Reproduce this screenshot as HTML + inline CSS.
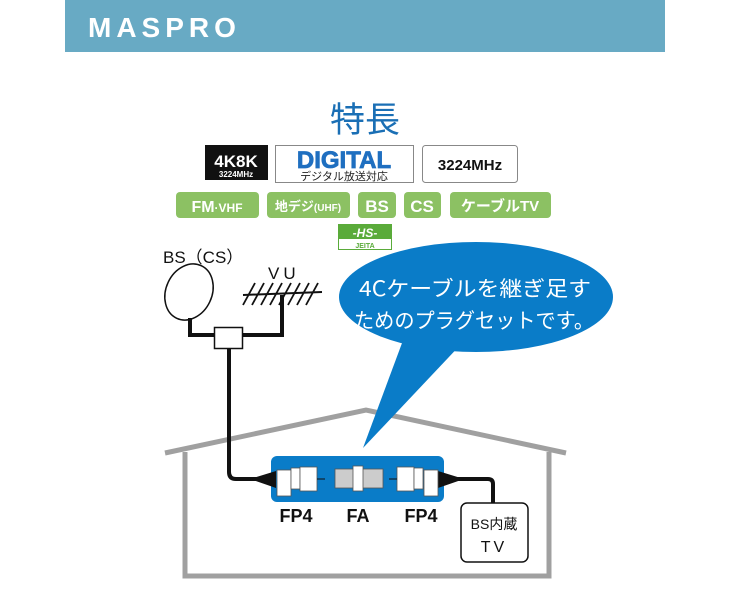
<!DOCTYPE html>
<html><head><meta charset="utf-8"><style>
html,body{margin:0;padding:0;background:#fff;width:730px;height:600px;overflow:hidden}
svg{display:block}
</style></head><body>
<svg width="730" height="600" viewBox="0 0 730 600" xmlns="http://www.w3.org/2000/svg" font-family="Liberation Sans, Noto Sans CJK JP, sans-serif">
<rect x="65" y="0" width="600" height="52" fill="#68aac4"/>
<text x="88" y="37" font-size="28" font-weight="bold" fill="#fff" letter-spacing="5">MASPRO</text>
<text x="365" y="132" font-size="35" fill="#1a6fb5" text-anchor="middle" font-family="Noto Sans CJK JP, sans-serif">特長</text>
<rect x="205" y="145" width="63" height="35" fill="#111"/>
<text x="236" y="167" font-size="17" fill="#fff" font-weight="bold" text-anchor="middle">4K8K</text>
<text x="236" y="177" font-size="8" fill="#fff" font-weight="bold" text-anchor="middle">3224MHz</text>
<rect x="275.5" y="145.5" width="138" height="37" fill="#fff" stroke="#888"/>
<text x="344" y="168" font-size="24" fill="#1f6fc0" font-weight="900" text-anchor="middle" stroke="#1f6fc0" stroke-width="0.8">DIGITAL</text>
<text x="344" y="180" font-size="11" fill="#222" text-anchor="middle">デジタル放送対応</text>
<rect x="422.5" y="145.5" width="95" height="37" rx="3" fill="#fff" stroke="#888"/>
<text x="470" y="170" font-size="15" fill="#111" font-weight="bold" text-anchor="middle">3224MHz</text>
<g fill="#8cc163">
<rect x="176" y="192" width="83" height="26" rx="4"/>
<rect x="267" y="192" width="83" height="26" rx="4"/>
<rect x="358" y="192" width="38" height="26" rx="4"/>
<rect x="404" y="192" width="37" height="26" rx="4"/>
<rect x="450" y="192" width="101" height="26" rx="4"/>
</g>
<g fill="#fff" font-weight="bold" text-anchor="middle">
<text x="217" y="212" font-size="16">FM<tspan font-size="12">·VHF</tspan></text>
<text x="308" y="211" font-size="13">地デジ<tspan font-size="10">(UHF)</tspan></text>
<text x="377" y="212" font-size="17">BS</text>
<text x="422" y="212" font-size="17">CS</text>
<text x="500" y="211" font-size="15">ケーブルTV</text>
</g>
<rect x="338.5" y="224.5" width="53" height="25" fill="#fff" stroke="#5aab3a"/>
<rect x="339" y="225" width="52" height="14" fill="#5aab3a"/>
<text x="365" y="237" font-size="12" fill="#fff" font-weight="bold" font-style="italic" text-anchor="middle">-HS-</text>
<text x="365" y="248" font-size="7" fill="#5aab3a" font-weight="bold" text-anchor="middle">JEITA</text>
<text x="163" y="263" font-size="17" fill="#111">BS（CS）</text>
<text x="268" y="279" font-size="17" fill="#111" letter-spacing="4">VU</text>
<ellipse cx="189" cy="292" rx="23" ry="29" transform="rotate(25 189 292)" fill="#fff" stroke="#111" stroke-width="1.5"/>
<line x1="243" y1="295" x2="322" y2="292" stroke="#111" stroke-width="2"/>
<g stroke="#111" stroke-width="1.8">
<line x1="243" y1="305" x2="255" y2="283"/><line x1="252" y1="305" x2="264" y2="283"/>
<line x1="261" y1="305" x2="273" y2="283"/><line x1="270" y1="305" x2="282" y2="283"/>
<line x1="279" y1="305" x2="291" y2="283"/><line x1="288" y1="305" x2="300" y2="283"/>
<line x1="297" y1="305" x2="309" y2="283"/><line x1="306" y1="305" x2="318" y2="283"/>
</g>
<path d="M190 318 V335 H214 M242 335 H282 V295" fill="none" stroke="#111" stroke-width="4"/>
<rect x="214.5" y="327.5" width="28" height="21" fill="#fff" stroke="#111" stroke-width="1.5"/>
<path d="M165 453 L366 410 L566 453" fill="none" stroke="#a0a0a0" stroke-width="5"/>
<path d="M185 452 V576 H549 V452" fill="none" stroke="#a0a0a0" stroke-width="5"/>
<ellipse cx="476" cy="297" rx="137" ry="55" fill="#0a7cc8"/>
<path d="M405 335 L363 448 L465 340 Z" fill="#0a7cc8"/>
<text x="359" y="296" font-size="21" fill="#fff" textLength="232" lengthAdjust="spacingAndGlyphs" font-family="Noto Sans CJK JP, sans-serif">4Cケーブルを継ぎ足す</text>
<text x="354" y="328" font-size="21" fill="#fff" textLength="240" lengthAdjust="spacingAndGlyphs" font-family="Noto Sans CJK JP, sans-serif">ためのプラグセットです。</text>
<path d="M229 348 V472 Q229 479 236 479 H272" fill="none" stroke="#111" stroke-width="4"/>
<path d="M442 479 H488 Q493 479 493 484 V504" fill="none" stroke="#111" stroke-width="4"/>
<rect x="271" y="456" width="173" height="46" rx="6" fill="#0a7cc8"/>
<path d="M250 479 L276 471 V488 Z" fill="#111"/>
<path d="M464 479 L438 471 V488 Z" fill="#111"/>
<g fill="#fff" stroke="#555" stroke-width="0.8">
<rect x="277" y="470" width="14" height="26"/>
<rect x="291" y="468" width="9" height="21"/>
<rect x="300" y="467" width="17" height="24"/>
<rect x="335" y="469" width="48" height="19" fill="#ccc"/>
<rect x="353" y="466" width="10" height="25"/>
<rect x="397" y="467" width="17" height="24"/>
<rect x="414" y="468" width="9" height="21"/>
<rect x="424" y="470" width="14" height="26"/>
</g>
<line x1="317" y1="479" x2="325" y2="479" stroke="#111"/><line x1="389" y1="479" x2="397" y2="479" stroke="#111"/>
<g font-weight="bold" font-size="18" fill="#111" text-anchor="middle">
<text x="296" y="522">FP4</text><text x="358" y="522">FA</text><text x="421" y="522">FP4</text>
</g>
<rect x="461" y="503" width="67" height="59" rx="6" fill="#fff" stroke="#111" stroke-width="1.5"/>
<text x="494" y="529" font-size="14" fill="#111" text-anchor="middle">BS内蔵</text>
<text x="494" y="552" font-size="16" fill="#111" text-anchor="middle" letter-spacing="3">TV</text>
</svg>
</body></html>
